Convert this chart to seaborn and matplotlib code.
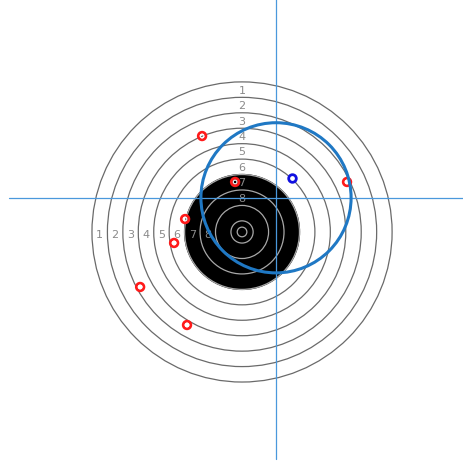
import numpy as np
import pandas as pd
import matplotlib
matplotlib.use('Agg')
import matplotlib.pyplot as plt
from matplotlib.patches import Circle
import seaborn as sns

sns.set_style('white')

# ISSF 10m air pistol target, all values in mm
ring_scores = [1, 2, 3, 4, 5, 6, 7, 8, 9, 10]
ring_radii = [77.75, 69.75, 61.75, 53.75, 45.75, 37.75, 29.75, 21.75, 13.75, 5.75]
inner_ten = 2.5
black_radius = 29.75
label_scores = [1, 2, 3, 4, 5, 6, 7, 8]

# shots (mm from target centre)
shot_x = [-20.7, -3.6, -29.5, -35.2, -52.8, -28.5, 54.4]
shot_y = [49.7, 25.9, 6.7, -5.7, -28.5, -48.2, 25.9]
last_x = [25.9]
last_y = [28.0]

# group centre and spread
group_x = 17.6
group_y = 17.7
group_radius = 38.9

shots = pd.DataFrame({'x': shot_x, 'y': shot_y})
last = pd.DataFrame({'x': last_x, 'y': last_y})

fig = plt.figure(figsize=(4.64, 4.64), dpi=100)
ax = fig.add_axes([0, 0, 1, 1])
ax.set_xlim(-125.4, 115.0)
ax.set_ylim(-119.7, 120.7)
ax.set_aspect('equal')
ax.axis('off')

ax.add_patch(Circle((0, 0), black_radius, color='black', zorder=1))
for score, r in zip(ring_scores, ring_radii):
    col = '#6a6a6a' if r > black_radius else '#a8a8a8'
    ax.add_patch(Circle((0, 0), r, fill=False, ec=col, lw=0.9, zorder=2))
ax.add_patch(Circle((0, 0), inner_ten, fill=False, ec='#a8a8a8', lw=0.9, zorder=2))

for score in label_scores:
    i = ring_scores.index(score)
    lr = (ring_radii[i] + ring_radii[i + 1]) / 2
    ax.text(0, lr, str(score), ha='center', va='center', fontsize=8,
            color='#8a8a8a', zorder=3)
    ax.text(-lr, -1.0, str(score), ha='center', va='center', fontsize=8,
            color='#8a8a8a', zorder=3)

ax.axhline(group_y, xmin=0.019, xmax=1, color='#4a98dc', lw=0.9, zorder=4)
ax.axvline(group_x, ymin=0.009, ymax=1, color='#4a98dc', lw=0.9, zorder=4)

sns.scatterplot(data=shots, x='x', y='y', ax=ax, s=30, marker='o',
                facecolor='none', edgecolor='#ff1a1a', linewidth=2.0, zorder=5)
sns.scatterplot(data=shots, x='x', y='y', ax=ax, s=7, marker='o',
                facecolor='none', edgecolor='white', linewidth=0.8, zorder=5)
sns.scatterplot(data=last, x='x', y='y', ax=ax, s=30, marker='o',
                facecolor='white', edgecolor='#1010e0', linewidth=2.0, zorder=5)

ax.add_patch(Circle((group_x, group_y), group_radius, fill=False,
                    ec='#1f78c4', lw=2.2, zorder=6))

ax.set_xlabel('')
ax.set_ylabel('')
plt.savefig('out.png', dpi=100)
